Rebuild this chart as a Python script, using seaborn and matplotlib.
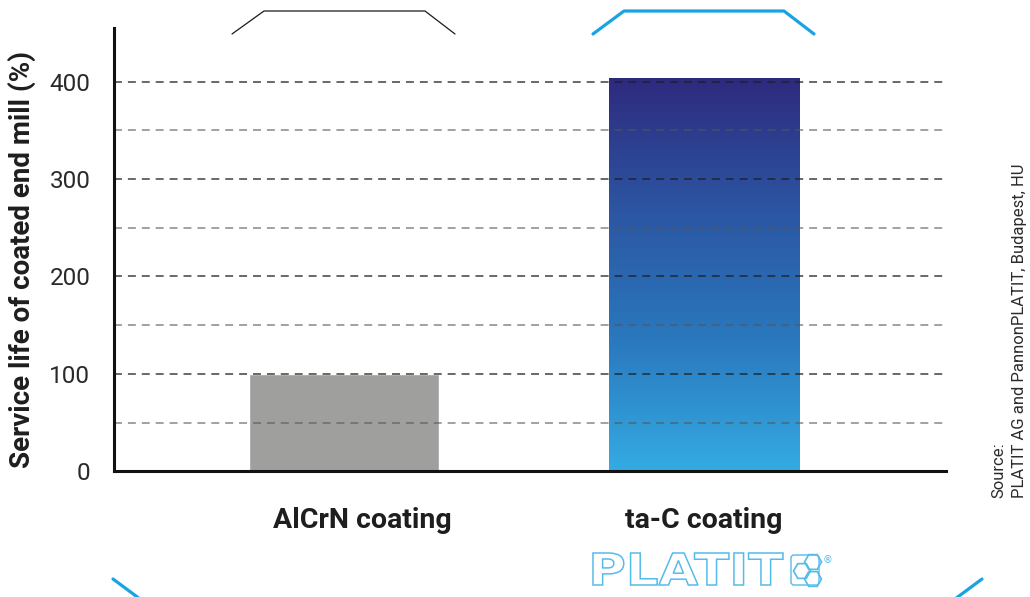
import numpy as np
import pandas as pd
import matplotlib
matplotlib.use("Agg")
import matplotlib.pyplot as plt
import matplotlib.transforms as mtransforms
from matplotlib.colors import LinearSegmentedColormap
from matplotlib.patches import RegularPolygon, FancyBboxPatch, PathPatch
from matplotlib.textpath import TextPath
from matplotlib.font_manager import FontProperties
import seaborn as sns

# Data
coatings = ["AlCrN coating", "ta-C coating"]
service_life = [100, 404]
y_ticks = [0, 100, 200, 300, 400]
y_tick_labels = ["0", "100", "200", "300", "400"]
source_lines = ["Source:", "PLATIT AG and PannonPLATIT, Budapest, HU"]

sns.set_theme(style="white")
plt.rcParams["font.family"] = ["Roboto", "DejaVu Sans"]

W, H = 1030, 597
fig = plt.figure(figsize=(W / 100, H / 100), dpi=100)
ax = fig.add_axes([114 / W, 1 - 471.3 / H, (946 - 114) / W, (471.3 - 28) / H])

df = pd.DataFrame({"coating": coatings, "life": service_life})
sns.barplot(data=df, x="coating", y="life", hue="coating", legend=False,
            palette=["#9f9f9e", "#2b6ab0"], width=0.528, saturation=1,
            ax=ax, zorder=1)

# Vertical gradient fill for the ta-C bar
grad_cmap = LinearSegmentedColormap.from_list(
    "tac", ["#34abe3", "#2a78bd", "#2c55a2", "#2e2a7e"])
bar = ax.patches[1]
bx0, by0 = bar.get_x(), bar.get_y()
bw, bh = bar.get_width(), bar.get_height()
grad = np.linspace(0, 1, 256).reshape(-1, 1)
im = ax.imshow(grad, cmap=grad_cmap, origin="lower", aspect="auto",
               extent=(bx0, bx0 + bw, by0, by0 + bh), zorder=1.5,
               interpolation="bilinear")
im.set_clip_path(bar)
ax.set_xlim(-0.639, 1.672)
ax.set_ylim(0, 455)

# Dashed grid drawn over the bars
ax.set_yticks(y_ticks)
ax.set_yticklabels(y_tick_labels)
ax.set_yticks(np.arange(50, 351, 100), minor=True)
ax.set_axisbelow(False)
ax.grid(axis="y", which="major", color="#1e1e1e", alpha=0.85, lw=1.1,
        ls=(0, (5.2, 3.9)))
ax.grid(axis="y", which="minor", color="#555555", alpha=0.7, lw=1.1,
        ls=(0, (5.2, 3.9)))
ax.grid(axis="x", visible=False)

for side in ["top", "right"]:
    ax.spines[side].set_visible(False)
for side in ["left", "bottom"]:
    ax.spines[side].set_color("#111111")
    ax.spines[side].set_linewidth(2.2)
    ax.spines[side].set_zorder(4)

ax.tick_params(axis="both", which="both", length=0)
ax.tick_params(axis="y", pad=17, labelsize=17.5, labelcolor="#2a2a2a")
ax.tick_params(axis="x", pad=26, labelsize=20.5, labelcolor="#1e1e1e")
for lbl in ax.get_xticklabels():
    lbl.set_fontweight("bold")
# nudge the first category label slightly to the right
first = ax.get_xticklabels()[0]
first.set_transform(first.get_transform() +
                    mtransforms.ScaledTranslation(18 / 100, 0, fig.dpi_scale_trans))

ax.set_xlabel("")
ax.set_ylabel("Service life of coated end mill (%)", fontsize=20,
              fontweight="bold", color="#1e1e1e")
ax.yaxis.set_label_coords(-0.094, 0.478)

# Source note, rotated along the right edge
fig.text(1009 / W, 1 - 498 / H, "\n".join(source_lines), rotation=90,
         ha="center", va="bottom", multialignment="left", fontsize=12,
         color="#2b2b2b", linespacing=1.5)

# Decorative frame lines and logo on a pixel-space overlay
deco = fig.add_axes([0, 0, 1, 1], facecolor="none")
deco.set_xlim(0, W)
deco.set_ylim(H, 0)
deco.axis("off")
blue = "#1ba3e1"
deco.plot([232, 264, 425, 455], [34, 11, 11, 34], color="#1a1a1a", lw=0.9)
deco.plot([593, 624, 784, 814], [34, 11, 11, 34], color=blue, lw=2.3,
          solid_capstyle="round")
deco.plot([113, 140], [579, 599], color=blue, lw=2.3)
deco.plot([982, 955], [579, 599], color=blue, lw=2.3)

logo_blue = "#55bbea"
tp = TextPath((0, 0), "PLATIT", size=40,
              prop=FontProperties(family="DejaVu Sans", weight="bold"))
ext = tp.get_extents()
sx = 190 / ext.width
sy = 32 / ext.height
logo_tf = (mtransforms.Affine2D().translate(-ext.x0, -ext.y0)
           .scale(sx, -sy).translate(593, 585))
deco.add_patch(PathPatch(logo_tf.transform_path(tp), fc="white",
                         ec=logo_blue, lw=1.1))
deco.add_patch(FancyBboxPatch((791, 555), 28, 30,
                              boxstyle="round,pad=0,rounding_size=3",
                              fill=False, ec=logo_blue, lw=1.0))
for cx, cy in [(802, 571), (813, 562), (813, 579)]:
    deco.add_patch(RegularPolygon((cx, cy), 6, radius=8.5,
                                  orientation=np.pi / 6, fill=False,
                                  ec=logo_blue, lw=1.2))
deco.text(828, 560, "®", fontsize=7, color=logo_blue, ha="center",
          va="center", family="DejaVu Sans")

fig.savefig("out.png", dpi=100)
